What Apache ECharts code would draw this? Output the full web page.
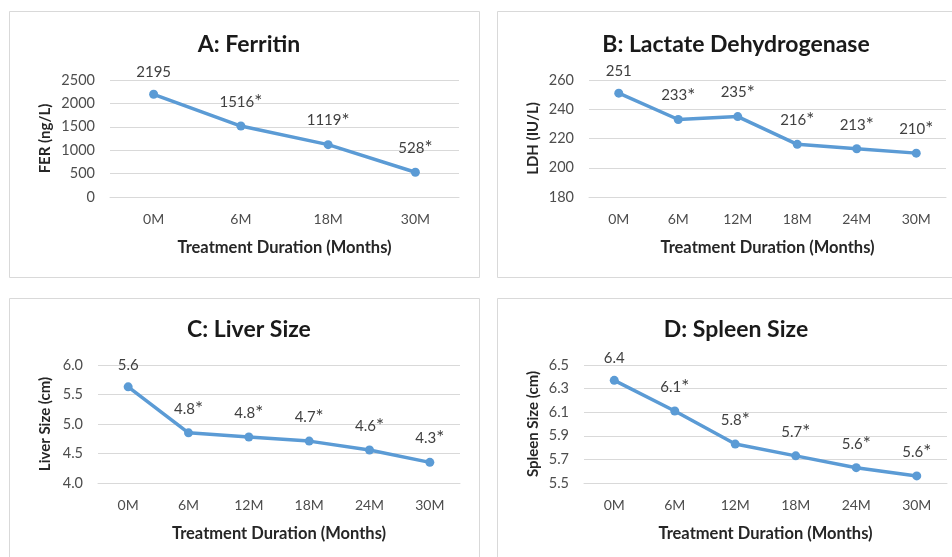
<!DOCTYPE html>
<html>
<head>
<meta charset="utf-8">
<script src="https://cdn.jsdelivr.net/npm/echarts@6/dist/echarts.min.js"></script>
<style>
html,body{margin:0;padding:0;background:#fff;}
#chart{width:952px;height:557px;}
</style>
</head>
<body>
<div id="chart"></div>
<script>
// ---- data ----
const catsFer = ['0M', '6M', '18M', '30M'];
const catsSix = ['0M', '6M', '12M', '18M', '24M', '30M'];

const ferritin = [2195, 1516, 1119, 528];
const ferritinLabels = ['2195', '1516*', '1119*', '528*'];

const ldh = [251, 233, 235, 216, 213, 210];
const ldhLabels = ['251', '233*', '235*', '216*', '213*', '210*'];

const liver = [5.63, 4.85, 4.78, 4.71, 4.56, 4.35];
const liverLabels = ['5.6', '4.8*', '4.8*', '4.7*', '4.6*', '4.3*'];

const spleen = [6.37, 6.11, 5.83, 5.73, 5.63, 5.56];
const spleenLabels = ['6.4', '6.1*', '5.8*', '5.7*', '5.6*', '5.6*'];

// axis ranges [min, max, interval]
const ferAxis = [0, 2500, 500];
const ldhAxis = [180, 260, 20];
const liverAxis = [4.0, 6.0, 0.5];
const spleenAxis = [5.5, 6.5, 0.2];

const titles = ['A: Ferritin', 'B: Lactate Dehydrogenase', 'C: Liver Size', 'D: Spleen Size'];
const yNames = ['FER (ng/L)', 'LDH (IU/L)', 'Liver Size (cm)', 'Spleen Size (cm)'];
const xName = 'Treatment Duration (Months)';

// ---- styling / layout ----
const FONT = 'Lato';
const BLUE = '#5B9BD5';
const GRID_C = '#d9d9d9';

const grids = [
  {left: 110, top: 80, width: 349, height: 117},
  {left: 589, top: 80, width: 357, height: 117},
  {left: 98, top: 365, width: 362, height: 118},
  {left: 584, top: 365, width: 363, height: 118}
];
const titlePos = [[244, 28], [731, 28], [244, 313], [731, 313]];
const yNameGaps = [57, 48, 45, 43];
const yDecimals = [0, 0, 1, 1];
const axes = [ferAxis, ldhAxis, liverAxis, spleenAxis];
const cats = [catsFer, catsSix, catsSix, catsSix];
const values = [ferritin, ldh, liver, spleen];
const labels = [ferritinLabels, ldhLabels, liverLabels, spleenLabels];

const boxes = [
  {x: 9.5, y: 11.5, w: 470, h: 266},
  {x: 497.5, y: 11.5, w: 470, h: 266},
  {x: 9.5, y: 298.5, w: 470, h: 266},
  {x: 497.5, y: 298.5, w: 470, h: 266}
];

function labelFormatter(arr) {
  return function (p) {
    const t = arr[p.dataIndex];
    if (t.endsWith('*')) return '{v|' + t.slice(0, -1) + '}{s|*}';
    return '{v|' + t + '}';
  };
}

const option = {
  backgroundColor: '#fff',
  animation: false,
  graphic: boxes.map(b => ({
    type: 'rect', shape: {x: b.x, y: b.y, width: b.w, height: b.h},
    style: {fill: 'none', stroke: GRID_C, lineWidth: 1}, silent: true, z: -1
  })),
  title: titles.map((t, i) => ({
    text: t, left: titlePos[i][0], top: titlePos[i][1], textAlign: 'center',
    textStyle: {fontFamily: FONT, fontWeight: 'bold', fontSize: 23, color: '#1a1a1a'}
  })),
  grid: grids,
  xAxis: cats.map((c, i) => ({
    type: 'category', gridIndex: i, data: c, boundaryGap: true,
    name: xName, nameLocation: 'middle', nameGap: 42,
    nameTextStyle: {fontFamily: FONT, fontWeight: 'bold', fontSize: 16.5, color: '#262626'},
    axisLine: {show: true, lineStyle: {color: GRID_C, width: 1}},
    axisTick: {show: false},
    axisLabel: {fontFamily: FONT, fontSize: 14, color: '#4d4d4d', margin: 15}
  })),
  yAxis: axes.map((a, i) => ({
    type: 'value', gridIndex: i, min: a[0], max: a[1], interval: a[2],
    name: yNames[i], nameLocation: 'middle', nameGap: yNameGaps[i], nameRotate: 90,
    nameTextStyle: {fontFamily: FONT, fontWeight: 'bold', fontSize: 15, color: '#262626'},
    axisLine: {show: false}, axisTick: {show: false},
    splitLine: {show: true, lineStyle: {color: GRID_C, width: 1}},
    axisLabel: {
      fontFamily: FONT, fontSize: 14.5, color: '#4d4d4d', margin: 15,
      formatter: v => v.toFixed(yDecimals[i])
    }
  })),
  series: values.map((v, i) => ({
    type: 'line', xAxisIndex: i, yAxisIndex: i, data: v,
    symbol: 'circle', symbolSize: 9,
    lineStyle: {color: BLUE, width: 3.5},
    itemStyle: {color: BLUE},
    label: {
      show: true, position: 'top', distance: 10,
      formatter: labelFormatter(labels[i]),
      rich: {
        v: {fontFamily: FONT, fontSize: 15, color: '#404040'},
        s: {fontFamily: FONT, fontSize: 19, color: '#404040'}
      }
    }
  }))
};

const chart = echarts.init(document.getElementById('chart'), null, {renderer: 'canvas'});
chart.setOption(option);
</script>
</body>
</html>
